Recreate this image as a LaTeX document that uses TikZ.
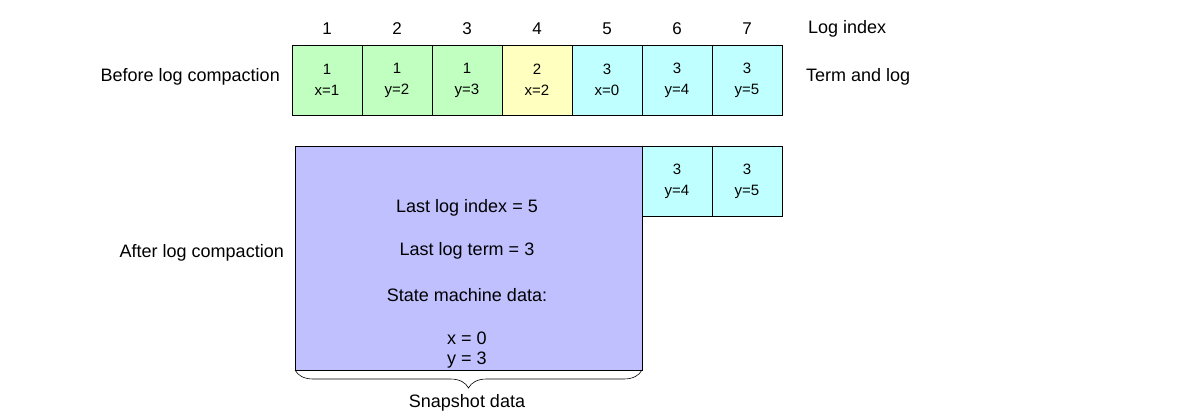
\documentclass[tikz,border=0pt]{standalone}
\usepackage{fontspec}
\setmainfont{Liberation Sans}
\usetikzlibrary{decorations.pathreplacing}
\definecolor{cgreen}{HTML}{C0FFC0}
\definecolor{cyellow}{HTML}{FFFFC0}
\definecolor{ccyan}{HTML}{C0FFFF}
\definecolor{cpurple}{HTML}{C0C0FF}
\begin{document}
\begin{tikzpicture}[x=1pt,y=-1pt,
  cell/.style={draw=black,line width=0.8pt,minimum width=70pt,minimum height=70pt,inner sep=0pt,outer sep=0pt,align=center,font=\fontsize{15}{21}\selectfont},
  lbl/.style={font=\fontsize{18}{21}\selectfont,inner sep=0pt},
  idx/.style={font=\fontsize{17}{20}\selectfont,inner sep=0pt}]
\useasboundingbox (0,0) rectangle (1200,420);
% index labels
\foreach \i in {1,...,7} {
  \node[idx] (i\i) at ({327+70*(\i-1)},29) {\i};
}
\node[lbl,anchor=west] (logidx) at (808,29) {Log index};
% top row
\node[cell,fill=cgreen] (c1) at (327,80) {1\\x=1};
\node[cell,fill=cgreen] (c2) at (397,80) {1\\y=2};
\node[cell,fill=cgreen] (c3) at (467,80) {1\\y=3};
\node[cell,fill=cyellow] (c4) at (537,80) {2\\x=2};
\node[cell,fill=ccyan] (c5) at (607,80) {3\\x=0};
\node[cell,fill=ccyan] (c6) at (677,80) {3\\y=4};
\node[cell,fill=ccyan] (c7) at (747,80) {3\\y=5};
\node[lbl,anchor=east] (before) at (280,77) {Before log compaction};
\node[lbl,anchor=west] (term) at (806,77) {Term and log};
% snapshot
\node[draw=black,line width=0.8pt,fill=cpurple,minimum width=347pt,minimum height=224pt,inner sep=0pt,outer sep=0pt] (snap) at (468.5,258) {};
\node[lbl] (t1) at (467,208) {Last log index = 5};
\node[lbl] (t2) at (467,251) {Last log term = 3};
\node[lbl] (t3) at (467,295) {State machine data:};
\node[lbl] (t4) at (467,338) {x = 0};
\node[lbl] (t5) at (467,360) {y = 3};
\node[cell,fill=ccyan] (d6) at (677,181) {3\\y=4};
\node[cell,fill=ccyan] (d7) at (747,181) {3\\y=5};
\node[lbl,anchor=east] (after) at (284,253) {After log compaction};
% brace
\draw[decorate,decoration={brace,mirror,amplitude=18pt},line width=0.6pt] (snap.south west) -- (snap.south east) coordinate[midway] (bmid);
\node[lbl] (snapdata) at (467,403) {Snapshot data};
\end{tikzpicture}
\end{document}
